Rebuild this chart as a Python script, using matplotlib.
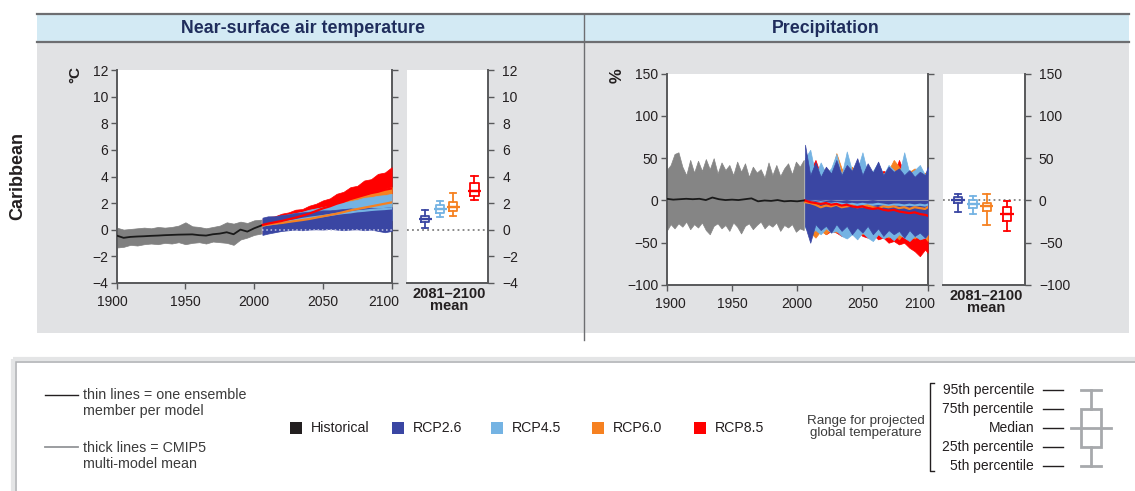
import numpy as np
import matplotlib
matplotlib.use("Agg")
import matplotlib.pyplot as plt
import matplotlib.transforms as mtransforms
from matplotlib.patches import Rectangle

plt.rcParams['font.family'] = ['Liberation Sans', 'DejaVu Sans']

# ---------------- data ----------------
scenarios = ["RCP2.6", "RCP4.5", "RCP6.0", "RCP8.5"]
scen_colors = ["#3a46a3", "#74b3e3", "#f68121", "#ff0000"]

# temperature, historical 1900-2005 (5-yr steps)
hist_years_t = np.arange(1900, 2006, 5)
hist_t_hi = [0.15, 0.0, 0.05, 0.1, 0.15, 0.1, 0.2, 0.15, 0.2, 0.3, 0.55, 0.25,
             0.2, 0.1, 0.2, 0.3, 0.55, 0.45, 0.6, 0.5, 0.7, 0.75]
hist_t_lo = [-1.35, -1.3, -1.15, -1.2, -1.1, -1.05, -1.1, -1.0, -1.05, -0.95, -1.1,
             -1.0, -0.95, -1.05, -0.9, -0.95, -1.0, -1.15, -0.75, -0.6, -0.4, -0.3]
hist_t_mean = [-0.45, -0.62, -0.55, -0.52, -0.5, -0.47, -0.45, -0.42, -0.4, -0.38, -0.37,
               -0.36, -0.42, -0.45, -0.35, -0.3, -0.2, -0.35, 0.0, -0.15, 0.1, 0.3]

# temperature, projections 2006-2100
proj_years_t = [2006] + list(range(2010, 2101, 5))
t26_hi = [0.9, 1.0, 1.0, 1.1, 1.15, 1.25, 1.3, 1.35, 1.4, 1.45, 1.45, 1.5, 1.55, 1.6, 1.55, 1.6, 1.65, 1.6, 1.65, 1.7]
t26_lo = [-0.4, -0.3, -0.2, -0.1, -0.05, 0.0, -0.05, 0.0, 0.02, 0.0, 0.05, 0.0, -0.05, 0.0, 0.02, -0.05, 0.0, -0.1, -0.2, -0.1]
t26_mean = [0.3, 0.4, 0.45, 0.5, 0.55, 0.6, 0.65, 0.68, 0.7, 0.72, 0.74, 0.75, 0.76, 0.77, 0.78, 0.78, 0.79, 0.8, 0.8, 0.8]
t45_hi = [0.75, 0.85, 0.95, 1.05, 1.15, 1.25, 1.35, 1.5, 1.6, 1.7, 1.8, 1.95, 2.05, 2.15, 2.25, 2.4, 2.45, 2.55, 2.6, 2.7]
t45_lo = [-0.35, -0.2, -0.15, -0.05, 0.0, 0.05, 0.1, 0.15, 0.2, 0.25, 0.3, 0.35, 0.4, 0.45, 0.5, 0.55, 0.6, 0.6, 0.65, 0.7]
t45_mean = [0.3, 0.38, 0.45, 0.55, 0.62, 0.7, 0.8, 0.88, 0.95, 1.02, 1.1, 1.18, 1.25, 1.3, 1.38, 1.42, 1.48, 1.52, 1.55, 1.6]
t60_hi = [0.7, 0.8, 0.9, 1.0, 1.1, 1.2, 1.3, 1.45, 1.55, 1.7, 1.8, 2.0, 2.15, 2.3, 2.45, 2.6, 2.75, 2.9, 3.05, 3.2]
t60_lo = [-0.3, -0.2, -0.1, 0.0, 0.05, 0.1, 0.2, 0.25, 0.3, 0.4, 0.5, 0.6, 0.7, 0.8, 0.9, 1.0, 1.1, 1.2, 1.3, 1.4]
t60_mean = [0.3, 0.38, 0.45, 0.5, 0.58, 0.65, 0.72, 0.8, 0.9, 1.0, 1.1, 1.2, 1.32, 1.45, 1.55, 1.65, 1.75, 1.85, 1.95, 2.05]
t85_hi = [0.8, 0.95, 1.0, 1.2, 1.3, 1.5, 1.55, 1.8, 1.95, 2.2, 2.35, 2.7, 2.85, 3.2, 3.3, 3.7, 3.8, 4.2, 4.3, 4.7]
t85_lo = [-0.3, -0.1, 0.0, 0.1, 0.2, 0.3, 0.4, 0.5, 0.6, 0.8, 0.9, 1.0, 1.2, 1.3, 1.5, 1.6, 1.8, 1.9, 2.0, 2.1]
t85_mean = [0.35, 0.45, 0.55, 0.65, 0.78, 0.9, 1.05, 1.2, 1.4, 1.6, 1.75, 1.95, 2.1, 2.3, 2.45, 2.6, 2.75, 2.85, 3.0, 3.1]

# temperature, 2081-2100 mean boxes (5th, 25th, median, 75th, 95th)
box_t_p5 = [0.15, 0.94, 1.04, 2.23]
box_t_p25 = [0.6, 1.22, 1.37, 2.55]
box_t_med = [0.82, 1.57, 1.69, 2.93]
box_t_p75 = [1.04, 1.87, 2.11, 3.5]
box_t_p95 = [1.44, 2.14, 2.74, 4.05]

# precipitation, historical 1900-2005 (3-yr steps)
hist_years_p = np.arange(1900, 2006, 3)
hist_p_hi = [36, 42, 55, 57, 40, 30, 48, 33, 47, 35, 49, 37, 50, 32, 45, 36, 42, 30,
             46, 34, 44, 28, 40, 33, 37, 27, 45, 30, 42, 29, 38, 44, 31, 46, 40, 48]
hist_p_lo = [-36, -28, -33, -27, -31, -25, -34, -28, -32, -26, -35, -40, -30, -27, -33, -29, -36, -26,
             -31, -39, -30, -27, -34, -29, -25, -33, -28, -31, -26, -36, -29, -32, -28, -37, -33, -35]
hist_years_pm = np.arange(1900, 2006, 5)
hist_p_mean = [2, 1, 1.5, 2, 1.5, 2, 0.5, 3.5, 1.5, 0.5, 1, 0.5, 1.5, 2.5, -1, 0, -0.5, 0.5, -1, -0.5, -1, 0]

# precipitation, projections 2006-2100 (4-yr steps)
proj_years_p = [2006] + list(range(2010, 2099, 4)) + [2100]
p26_hi = [66, 30, 45, 28, 40, 32, 48, 30, 42, 35, 50, 30, 44, 33, 46, 30, 40, 34, 38, 30, 36, 28, 34, 30, 40]
p26_lo = [-30, -50, -28, -35, -30, -38, -28, -36, -30, -40, -32, -38, -30, -40, -33, -42, -35, -40, -36, -44, -35, -42, -38, -44, -40]
p26_mean = [0, -1, -2, -1, -2, -1, -2, -2, -1, -2, -3, -2, -2, -1, -2, -3, -2, -2, -3, -2, -2, -3, -2, -2, -2]
p45_hi = [50, 60, 30, 45, 32, 38, 55, 30, 58, 35, 36, 57, 32, 35, 45, 30, 42, 36, 30, 57, 32, 36, 42, 30, 38]
p45_lo = [-32, -38, -35, -40, -33, -38, -36, -42, -45, -40, -46, -38, -44, -48, -40, -45, -42, -47, -40, -44, -48, -42, -46, -44, -40]
p45_mean = [-1, -2, -3, -2, -3, -4, -3, -4, -5, -4, -5, -4, -5, -5, -4, -5, -6, -5, -5, -6, -5, -6, -5, -6, -5]
p60_hi = [45, 38, 30, 40, 35, 30, 56, 38, 32, 40, 30, 36, 34, 30, 38, 32, 36, 48, 40, 30, 34, 38, 30, 33, 30]
p60_lo = [-30, -38, -44, -36, -40, -34, -38, -32, -36, -38, -34, -40, -36, -42, -38, -40, -44, -40, -46, -38, -42, -45, -40, -44, -48]
p60_mean = [-2, -3, -5, -8, -6, -7, -5, -8, -7, -6, -8, -7, -6, -8, -9, -7, -8, -7, -9, -8, -10, -8, -9, -10, -8]
p85_hi = [40, 35, 48, 30, 38, 32, 35, 30, 48, 33, 30, 36, 28, 34, 30, 35, 33, 30, 48, 32, 30, 34, 30, 32, 30]
p85_lo = [-30, -35, -38, -34, -40, -36, -38, -42, -38, -40, -36, -42, -44, -40, -46, -44, -50, -48, -52, -50, -56, -60, -66, -58, -62]
p85_mean = [0, -2, -3, -4, -3, -5, -4, -6, -5, -7, -8, -7, -9, -10, -9, -11, -12, -11, -13, -14, -15, -14, -16, -17, -18]

box_p_p5 = [-14, -16.5, -29.5, -36]
box_p_p25 = [-3.5, -8.5, -12.5, -24.5]
box_p_med = [0.3, -4, -6.6, -15.8]
box_p_p75 = [4, 0, -2.7, -8]
box_p_p95 = [8, 5, 8, -1]

# ---------------- layout ----------------
W, H = 1135, 491
fig = plt.figure(figsize=(W / 100, H / 100), dpi=100)

bg = fig.add_axes([0, 0, 1, 1])
bg.set_xlim(0, W)
bg.set_ylim(H, 0)
bg.axis('off')


def px_axes(x0, y0, x1, y1):
    return fig.add_axes([x0 / W, 1 - y1 / H, (x1 - x0) / W, (y1 - y0) / H])


DARK = "#231f20"
SPINE = "#58595b"
TICK_FS = 10

# panel backgrounds
bg.add_patch(Rectangle((37, 42), 1092, 291, facecolor="#e1e2e4", edgecolor="none"))
bg.add_patch(Rectangle((37, 14), 1092, 28, facecolor="#d3eaf4", edgecolor="none"))
bg.plot([37, 1129], [14, 14], color="#6d6e71", lw=1.6)
bg.plot([37, 1129], [42, 42], color="#6d6e71", lw=1.6)
bg.plot([584, 584], [14, 340], color="#6d6e71", lw=1.0)
bg.text(303, 28, "Near-surface air temperature", ha="center", va="center",
        fontsize=12.8, fontweight="bold", color="#1f2d5c")
bg.text(826, 28, "Precipitation", ha="center", va="center",
        fontsize=12.8, fontweight="bold", color="#1f2d5c")
bg.text(18, 176, "Caribbean", ha="center", va="center", rotation=90,
        fontsize=13, fontweight="bold", color=DARK)
bg.text(75, 74, "°C", ha="center", va="center", rotation=90,
        fontsize=11, fontweight="bold", color=DARK)
bg.text(617, 76, "%", ha="center", va="center", rotation=90,
        fontsize=12, fontweight="bold", color=DARK)
bg.text(449, 300, "2081\u20132100\nmean", ha="center", va="center",
        fontsize=10.5, fontweight="bold", color=DARK, linespacing=0.85)
bg.text(986, 302, "2081\u20132100\nmean", ha="center", va="center",
        fontsize=10.5, fontweight="bold", color=DARK, linespacing=0.85)


def style_main(ax, ylim, yticks, first_shift, last_shift):
    ax.set_facecolor("white")
    ax.set_xlim(1900, 2100)
    ax.set_ylim(*ylim)
    ax.set_xticks([1900, 1950, 2000, 2050, 2100])
    ax.set_yticks(yticks)
    ax.spines['top'].set_visible(False)
    for s in ['left', 'bottom', 'right']:
        ax.spines[s].set_color(SPINE)
        ax.spines[s].set_linewidth(1.4)
    ax.tick_params(direction='out', length=4, width=1, color=SPINE,
                   labelsize=TICK_FS, labelcolor=DARK, pad=2)
    ax.tick_params(axis='y', right=True, labelright=False)
    ax.tick_params(axis='x', pad=5)
    # end year labels are nudged sideways in the reference
    labels = ax.get_xticklabels()
    for lab, dx in [(labels[0], first_shift), (labels[-1], last_shift)]:
        lab.set_transform(lab.get_transform() +
                          mtransforms.ScaledTranslation(dx / 100, 0, fig.dpi_scale_trans))


def style_box(ax, ylim, yticks):
    ax.set_facecolor("white")
    ax.set_xlim(0, 1)
    ax.set_ylim(*ylim)
    ax.set_xticks([])
    ax.set_yticks(yticks)
    ax.yaxis.tick_right()
    ax.spines['top'].set_visible(False)
    ax.spines['left'].set_visible(False)
    for s in ['bottom', 'right']:
        ax.spines[s].set_color(SPINE)
        ax.spines[s].set_linewidth(1.4)
    ax.tick_params(direction='out', length=4, width=1, color=SPINE,
                   labelsize=TICK_FS, labelcolor=DARK, pad=6)


def draw_boxes(ax, positions, p5, p25, med, p75, p95):
    for i, col in enumerate(scen_colors):
        st = dict(whislo=p5[i], q1=p25[i], med=med[i], q3=p75[i], whishi=p95[i])
        ax.bxp([st], positions=[positions[i]], widths=0.1, capwidths=0.08,
               showfliers=False, manage_ticks=False,
               boxprops=dict(color=col, lw=1.3),
               whiskerprops=dict(color=col, lw=1.3),
               capprops=dict(color=col, lw=1.3),
               medianprops=dict(color=col, lw=1.6))
        ax.hlines(med[i], positions[i] - 0.08, positions[i] + 0.08, color=col, lw=1.6, zorder=3)
    ax.axhline(0, color="#808080", lw=1.3, ls=(0, (1, 1.8)), zorder=1)


# ---- temperature ----
ax_t = px_axes(116.7, 70.3, 391.7, 282.7)
style_main(ax_t, (-4, 12), range(-4, 13, 2), -4, -8)
ax_t.fill_between(hist_years_t, hist_t_lo, hist_t_hi, color="#808080", lw=0.5, zorder=2)
t_hi = [t26_hi, t45_hi, t60_hi, t85_hi]
t_lo = [t26_lo, t45_lo, t60_lo, t85_lo]
t_mean = [t26_mean, t45_mean, t60_mean, t85_mean]
for i in [3, 2, 1, 0]:
    ax_t.fill_between(proj_years_t, t_lo[i], t_hi[i], color=scen_colors[i], lw=0.5, zorder=3)
for i in [0, 1, 2, 3]:
    ax_t.plot(proj_years_t, t_mean[i], color=scen_colors[i], lw=1.6, zorder=5)
ax_t.plot(hist_years_t, hist_t_mean, color="#1a1a1a", lw=1.3, zorder=5)
ax_t.plot([2006, 2100], [0, 0], color="#c9cbe6", lw=1.1, ls=(0, (1, 1.8)), zorder=4)

ax_tb = px_axes(406.7, 70.3, 488.3, 282.7)
style_box(ax_tb, (-4, 12), range(-4, 13, 2))
draw_boxes(ax_tb, [0.226, 0.41, 0.57, 0.83], box_t_p5, box_t_p25, box_t_med, box_t_p75, box_t_p95)

# ---- precipitation ----
ax_p = px_axes(666.7, 73.7, 927.7, 285)
style_main(ax_p, (-100, 150), range(-100, 151, 50), 4, -8)
ax_p.fill_between(hist_years_p, hist_p_lo, hist_p_hi, color="#858585", lw=0.5, zorder=2)
p_hi = [p26_hi, p45_hi, p60_hi, p85_hi]
p_lo = [p26_lo, p45_lo, p60_lo, p85_lo]
p_mean = [p26_mean, p45_mean, p60_mean, p85_mean]
for i in [3, 2, 1, 0]:
    ax_p.fill_between(proj_years_p, p_lo[i], p_hi[i], color=scen_colors[i], lw=0.5, zorder=3)
ax_p.plot(proj_years_p, [0] * len(proj_years_p), color="#8a8fb8", lw=0.8, zorder=4)
for i in [0, 1, 2, 3]:
    ax_p.plot(proj_years_p, p_mean[i], color=scen_colors[i], lw=1.6, zorder=5)
ax_p.plot(hist_years_pm, hist_p_mean, color="#1a1a1a", lw=1.3, zorder=5)

ax_pb = px_axes(943.3, 73.7, 1025, 285)
style_box(ax_pb, (-100, 150), range(-100, 151, 50))
draw_boxes(ax_pb, [0.18, 0.366, 0.53, 0.78], box_p_p5, box_p_p25, box_p_med, box_p_p75, box_p_p95)

# ---------------- legend ----------------
bg.add_patch(Rectangle((13, 359), 1130, 140, facecolor="none", edgecolor="#e4e5e6", lw=3))
bg.add_patch(Rectangle((16, 362), 1125, 135, facecolor="white", edgecolor="#b1b3b6", lw=1.2))

LEG = "#3b3b3b"
bg.plot([45, 78], [395, 395], color=DARK, lw=1.0)
bg.text(83, 403, "thin lines = one ensemble\nmember per model", ha="left", va="center",
        fontsize=10.3, color=LEG, linespacing=1.2)
bg.plot([45, 78], [447, 447], color="#939598", lw=1.3)
bg.text(83, 456, "thick lines = CMIP5\nmulti-model mean", ha="left", va="center",
        fontsize=10.3, color=LEG, linespacing=1.2)

leg_names = ["Historical"] + scenarios
leg_colors = ["#231f20"] + scen_colors
leg_sq_x = [296, 398, 497, 598, 700]
for name, col, x in zip(leg_names, leg_colors, leg_sq_x):
    bg.add_patch(Rectangle((x - 6, 422), 12, 12, facecolor=col, edgecolor="none"))
    bg.text(x + 15, 428, name, ha="left", va="center", fontsize=10.2, color=DARK)

bg.text(866, 427, "Range for projected\nglobal temperature", ha="center", va="center",
        fontsize=9.6, color=LEG, linespacing=1.0)
bg.plot([934, 930, 930, 934], [383, 383, 471, 471], color=DARK, lw=1.0)
pct_labels = ["95th percentile", "75th percentile", "Median", "25th percentile", "5th percentile"]
pct_y = [390, 409, 428, 447, 466]
for lab, y in zip(pct_labels, pct_y):
    bg.text(1034, y, lab, ha="right", va="center", fontsize=10, color=DARK)
    bg.plot([1043, 1063], [y, y], color=DARK, lw=1.0)

GR = "#a7a9ac"
bg.plot([1091, 1091], [390, 409], color=GR, lw=2)
bg.plot([1091, 1091], [447, 466], color=GR, lw=2)
bg.plot([1081, 1101], [390, 390], color=GR, lw=2)
bg.plot([1081, 1101], [466, 466], color=GR, lw=2)
bg.add_patch(Rectangle((1081, 409), 20, 38, facecolor="none", edgecolor=GR, lw=2))
bg.plot([1071, 1111], [428, 428], color=GR, lw=2)

fig.savefig("out.png", dpi=100)
